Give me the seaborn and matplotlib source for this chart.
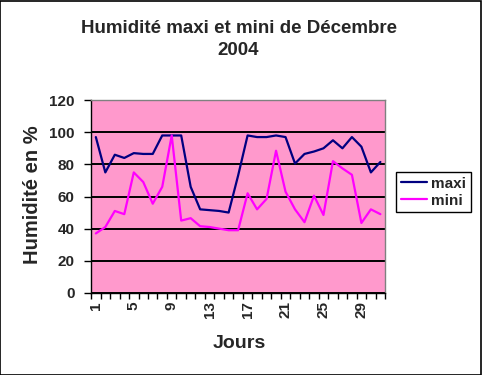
import pandas as pd
import numpy as np
import matplotlib
matplotlib.use("Agg")
import matplotlib.pyplot as plt
import seaborn as sns
from matplotlib.patches import Rectangle
from matplotlib.ticker import FixedLocator

# ----------------------------
# Data
# ----------------------------
jours = list(range(1, 32))
maxi = [97, 75, 86, 84, 87, 86.5, 86.5, 98, 98, 98, 66, 52, 51.5, 51, 50, 73,
        98, 97, 97, 98, 97, 80.5, 86.5, 88, 90, 95, 90, 97, 91, 75, 81.5]
mini = [37, 41, 51, 49, 75, 69, 55.5, 66, 98, 45, 46.5, 41.5, 41, 40, 39, 39,
        62, 52, 58.5, 88.5, 63, 52, 44, 60.5, 48.5, 82, 77.5, 73.5, 43.5, 52, 49]
series_names = ["maxi", "mini"]
series_colors = ["#000080", "#FF00FF"]
y_ticks = [0, 20, 40, 60, 80, 100, 120]
x_labels = [1, 5, 9, 13, 17, 21, 25, 29]

df = pd.DataFrame({"Jours": jours, "maxi": maxi, "mini": mini})
long_df = df.melt(id_vars="Jours", var_name="serie", value_name="humidite")

# ----------------------------
# Plot
# ----------------------------
sns.set_style("white")
plt.rcParams["font.family"] = ["Liberation Sans", "DejaVu Sans"]
plt.rcParams["font.weight"] = "bold"

fig = plt.figure(figsize=(4.82, 3.75), dpi=100)
ax = fig.add_axes([0.189, 0.219, 0.610, 0.514])
ax.set_facecolor("#FF99CC")

sns.lineplot(data=long_df, x="Jours", y="humidite", hue="serie",
             hue_order=series_names, palette=series_colors,
             linewidth=1.6, ax=ax)

ax.set_xlim(0.5, 31.5)
ax.set_ylim(0, 120)
ax.set_yticks(y_ticks)
ax.yaxis.grid(True, color="black", linewidth=1.4)
ax.xaxis.grid(False)
ax.set_axisbelow(True)

ax.set_xticks(x_labels)
ax.set_xticklabels([str(v) for v in x_labels], rotation=90, fontsize=11, fontweight="bold")
ax.xaxis.set_minor_locator(FixedLocator(np.arange(0.5, 32, 1)))
ax.tick_params(axis="x", which="major", length=0, pad=6)
ax.tick_params(axis="x", which="minor", length=4, width=1, color="black", direction="out", bottom=True)
ax.tick_params(axis="y", length=5, width=1, color="black", direction="out", left=True, pad=7)
for lab in ax.get_yticklabels():
    lab.set_fontsize(11)
    lab.set_fontweight("bold")

for side in ["top", "right"]:
    ax.spines[side].set_color("#808080")
    ax.spines[side].set_linewidth(1)
for side in ["left", "bottom"]:
    ax.spines[side].set_color("black")
    ax.spines[side].set_linewidth(1)

ax.set_xlabel("")
ax.set_ylabel("")
fig.text(0.496, 0.085, "Jours", ha="center", va="center", fontsize=14, fontweight="bold")
fig.text(0.068, 0.48, "Humidité en %", ha="center", va="center", rotation=90,
         fontsize=14.5, fontweight="bold")
fig.text(0.495, 0.895, "Humidité maxi et mini de Décembre\n2004", ha="center", va="center",
         fontsize=13.5, fontweight="bold", linespacing=1.35)

leg = ax.legend(loc="upper left", bbox_to_anchor=(0.822, 0.541), bbox_transform=fig.transFigure,
                frameon=True, fancybox=False, edgecolor="black", framealpha=1, fontsize=11,
                handlelength=1.7, handletextpad=0.3, borderpad=0.3, labelspacing=0.2,
                borderaxespad=0)
leg.get_frame().set_linewidth(1)
for t in leg.get_texts():
    t.set_fontweight("bold")

fig.patches.append(Rectangle((0.001, 0.001), 0.997, 0.996, transform=fig.transFigure,
                             fill=False, edgecolor="black", linewidth=1.2))

plt.savefig("out.png", dpi=100)
plt.close()
